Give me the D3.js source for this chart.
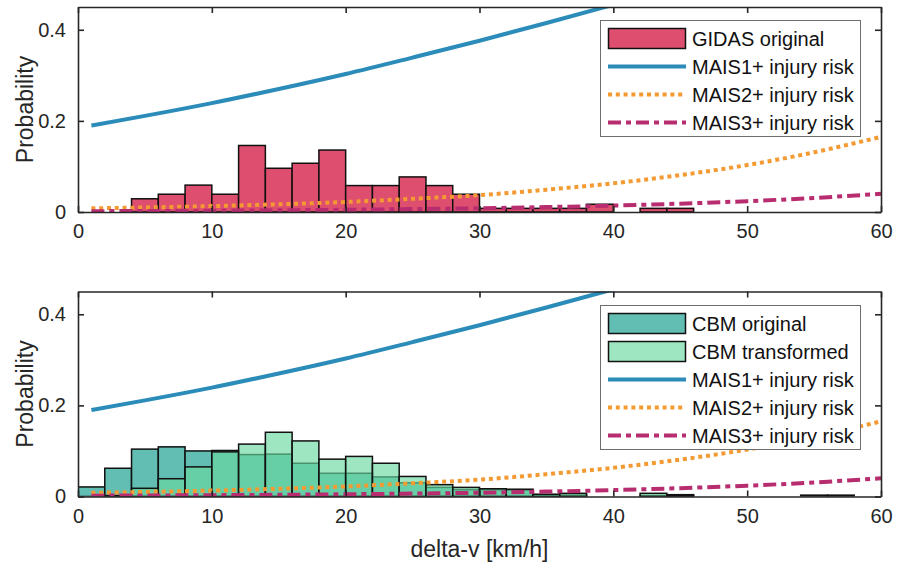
<!DOCTYPE html>
<html>
<head>
<meta charset="utf-8">
<script src="https://cdn.jsdelivr.net/npm/d3@7"></script>
<style>
  body { margin: 0; background: #fff; }
  svg { font-family: "Liberation Sans", Arial, sans-serif; }
</style>
</head>
<body>
<svg id="chart" width="897" height="567"></svg>
<script>
// histogram bins (left edge of each 2 km/h bin)
const gidasBins = [4, 6, 8, 10, 12, 14, 16, 18, 20, 22, 24, 26, 28, 30, 32, 34, 36, 38, 42, 44];
const gidasOriginal = [0.029, 0.039, 0.059, 0.039, 0.146, 0.096, 0.107, 0.136, 0.058, 0.058, 0.077, 0.058, 0.039, 0.008, 0.008, 0.008, 0.008, 0.017, 0.008, 0.008];

const cbmBins = [0, 2, 4, 6, 8, 10, 12, 14, 16, 18, 20, 22, 24, 26, 28, 30, 32, 34, 36, 42, 44, 54, 56];
const cbmOriginal = [0.021, 0.062, 0.104, 0.109, 0.100, 0.101, 0.092, 0.093, 0.073, 0.051, 0.051, 0.043, 0.030, 0.020, 0.015, 0.015, 0.014, 0.004, 0.003, 0.002, 0.004, 0.003, 0.003];
const cbmTransformed = [0, 0.002, 0.018, 0.039, 0.065, 0.098, 0.115, 0.141, 0.122, 0.082, 0.088, 0.073, 0.044, 0.026, 0.020, 0.017, 0.016, 0.005, 0.007, 0.007, 0.002, 0, 0];

// injury risk curves
const riskSpeeds = [1, 5, 10, 15, 20, 25, 30, 35, 40, 45, 50, 55, 60];
const mais1 = [0.190, 0.211, 0.239, 0.270, 0.303, 0.339, 0.376, 0.415, 0.455, 0.496, 0.537, 0.577, 0.616];
const mais2 = [0.008, 0.010, 0.013, 0.017, 0.022, 0.029, 0.037, 0.049, 0.063, 0.081, 0.103, 0.131, 0.165];
const mais3 = [0.0018, 0.0022, 0.0029, 0.0037, 0.0049, 0.0064, 0.0082, 0.0108, 0.014, 0.0183, 0.0238, 0.0308, 0.040];

const xTicks = [0, 10, 20, 30, 40, 50, 60];
const yTicks = [0, 0.2, 0.4];
const binWidth = 2;

const svg = d3.select("#chart");
const left = 78, right = 881;
const axisColor = "#262626";

const x = d3.scaleLinear().domain([0, 60]).range([left, right]);

const riskStyles = [
    { label: "MAIS1+ injury risk", values: mais1, color: "#2b8cba", dash: null },
    { label: "MAIS2+ injury risk", values: mais2, color: "#f39a32", dash: "4,3.8" },
    { label: "MAIS3+ injury risk", values: mais3, color: "#b82d6f", dash: "13,5,5,5" }
];

function drawPanel(top, bottom, id, histos, legendTop) {
    const y = d3.scaleLinear().domain([0, 0.45]).range([bottom, top]);
    const g = svg.append("g");

    g.append("clipPath").attr("id", id)
        .append("rect").attr("x", left).attr("y", top)
        .attr("width", right - left).attr("height", bottom - top);

    const plot = g.append("g").attr("clip-path", "url(#" + id + ")");

    // histogram bars
    histos.forEach(function(h) {
        plot.append("g").selectAll("rect")
            .data(h.bins.map(function(b, i) { return { b: b, v: h.values[i] }; }).filter(function(d) { return d.v > 0; }))
            .enter().append("rect")
            .attr("x", function(d) { return x(d.b); })
            .attr("y", function(d) { return y(d.v); })
            .attr("width", function(d) { return x(d.b + binWidth) - x(d.b); })
            .attr("height", function(d) { return y(0) - y(d.v); })
            .attr("fill", h.fill)
            .attr("fill-opacity", h.opacity)
            .attr("stroke", "#111")
            .attr("stroke-width", 1.5);
    });

    // risk curves
    const line = d3.line()
        .x(function(d) { return x(d[0]); })
        .y(function(d) { return y(d[1]); })
        .curve(d3.curveMonotoneX);

    riskStyles.forEach(function(r) {
        plot.append("path")
            .attr("d", line(riskSpeeds.map(function(s, i) { return [s, r.values[i]]; })))
            .attr("fill", "none")
            .attr("stroke", r.color)
            .attr("stroke-width", 4)
            .attr("stroke-dasharray", r.dash);
    });

    // axes (ticks inside, boxed)
    const fontSize = 20;
    g.append("g").attr("transform", "translate(0," + bottom + ")")
        .call(d3.axisBottom(x).tickValues(xTicks).tickSizeInner(-6).tickSizeOuter(0).tickPadding(12).tickFormat(d3.format("d")));
    g.append("g").attr("transform", "translate(0," + top + ")")
        .call(d3.axisTop(x).tickValues(xTicks).tickSizeInner(-6).tickSizeOuter(0).tickFormat(""));
    g.append("g").attr("transform", "translate(" + left + ",0)")
        .call(d3.axisLeft(y).tickValues(yTicks).tickSizeInner(-6).tickSizeOuter(0).tickPadding(12)
            .tickFormat(function(d) { return d === 0 ? "0" : d3.format(".1f")(d); }));
    g.append("g").attr("transform", "translate(" + right + ",0)")
        .call(d3.axisRight(y).tickValues(yTicks).tickSizeInner(-6).tickSizeOuter(0).tickFormat(""));

    g.selectAll(".domain").attr("stroke", axisColor).attr("stroke-width", 1.6);
    g.selectAll(".tick line").attr("stroke", axisColor).attr("stroke-width", 1.6);
    g.selectAll(".tick text").attr("fill", axisColor).style("font-size", fontSize + "px")
        .style("font-family", "Liberation Sans, Arial, sans-serif");

    // y label
    g.append("text")
        .attr("transform", "translate(33," + (top + bottom) / 2 + ") rotate(-90)")
        .attr("text-anchor", "middle")
        .attr("fill", axisColor)
        .style("font-size", "23px")
        .text("Probability");

    // legend
    const items = histos.map(function(h) { return { label: h.label, type: "bar", h: h }; })
        .concat(riskStyles.map(function(r) { return { label: r.label, type: "line", r: r }; }));
    const rowH = 28;
    const lg = g.append("g");
    lg.append("rect")
        .attr("x", 600.5).attr("y", legendTop + 0.5)
        .attr("width", 260).attr("height", items.length * rowH + 4)
        .attr("fill", "#fff").attr("stroke", "#6e6e6e").attr("stroke-width", 1);
    items.forEach(function(it, i) {
        const cy = legendTop + 18.5 + i * rowH;
        if (it.type === "bar") {
            lg.append("rect")
                .attr("x", 608.5).attr("y", cy - 10).attr("width", 77).attr("height", 20)
                .attr("fill", it.h.fill).attr("fill-opacity", it.h.legendOpacity)
                .attr("stroke", "#111").attr("stroke-width", 1.5);
        } else {
            lg.append("line")
                .attr("x1", 608).attr("x2", 686).attr("y1", cy).attr("y2", cy)
                .attr("stroke", it.r.color).attr("stroke-width", 4)
                .attr("stroke-dasharray", it.r.dash);
        }
        lg.append("text")
            .attr("x", 692).attr("y", cy).attr("dy", "0.35em")
            .attr("fill", "#111")
            .style("font-size", "20px")
            .text(it.label);
    });
}

drawPanel(7, 212, "clipTop", [
    { label: "GIDAS original", bins: gidasBins, values: gidasOriginal, fill: "#dd4e6f", opacity: 1, legendOpacity: 1 }
], 20);

drawPanel(291.5, 496.5, "clipBottom", [
    { label: "CBM original", bins: cbmBins, values: cbmOriginal, fill: "#62bdb3", opacity: 1, legendOpacity: 1 },
    { label: "CBM transformed", bins: cbmBins, values: cbmTransformed, fill: "#68d9a0", opacity: 0.65, legendOpacity: 0.65 }
], 305);

svg.append("text")
    .attr("x", (left + right) / 2).attr("y", 557)
    .attr("text-anchor", "middle")
    .attr("fill", axisColor)
    .style("font-size", "23px")
    .text("delta-v [km/h]");
</script>
</body>
</html>
